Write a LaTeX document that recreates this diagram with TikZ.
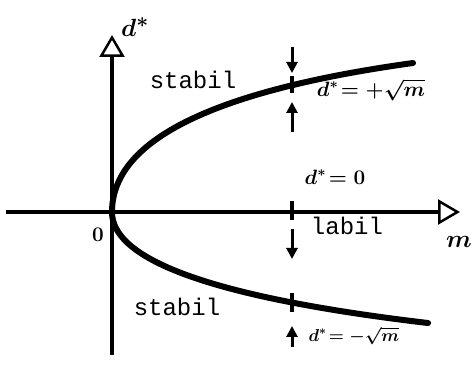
\documentclass[tikz,border=0pt]{standalone}
\usepackage{fontspec}
\newfontfamily\monofont{Liberation Mono}
\usetikzlibrary{arrows.meta,positioning}

\begin{document}
\begin{tikzpicture}[x=1pt, y=1pt,
  axis/.style={line width=4pt,
               -{Triangle[open, length=22pt, width=25pt, line width=2.5pt]}},
  branch/.style={line width=6pt, line cap=round},
  tick/.style={line width=3.5pt},
  arr/.style={line width=3pt, -{Triangle[length=11pt, width=11pt]}},
  zone/.style={font=\monofont\fontsize{24}{24}\selectfont, inner sep=0pt},
  hand/.style={font=\fontsize{20}{20}\selectfont\boldmath, inner sep=0pt}
]
\useasboundingbox (0,0) rectangle (472,367);

% axes
\coordinate (O)    at (112,155);
\coordinate (mlo)  at (6,155);
\coordinate (mhi)  at (460,155);
\coordinate (dlo)  at (112,12);
\coordinate (dhi)  at (112,332);
\draw[axis] (mlo) -- (mhi);
\draw[axis] (dlo) -- (dhi);

% branches d* = +sqrt(m) and d* = -sqrt(m)
\draw[branch] plot[domain=0:17.35, samples=60, smooth]
  ({112+\x*\x}, {155+12.37*\x-0.218*\x*\x});
\draw[branch] plot[domain=0:17.78, samples=60, smooth]
  ({112+\x*\x}, {155-8.29*\x+0.115*\x*\x});

% cut at m = const
\coordinate (upA) at (292,274); \coordinate (upB) at (292,291);
\coordinate (axA) at (292,147); \coordinate (axB) at (292,166);
\coordinate (loA) at (292,55);  \coordinate (loB) at (292,74);
\draw[tick] (upA) -- (upB);
\draw[tick] (axA) -- (axB);
\draw[tick] (loA) -- (loB);

\coordinate (a1s) at (292,320); \coordinate (a1e) at (292,294);
\coordinate (a2s) at (292,235); \coordinate (a2e) at (292,265);
\coordinate (a3s) at (292,138); \coordinate (a3e) at (292,108);
\coordinate (a4s) at (292,20);  \coordinate (a4e) at (292,41);
\draw[arr] (a1s) -- (a1e);
\draw[arr] (a2s) -- (a2e);
\draw[arr] (a3s) -- (a3e);
\draw[arr] (a4s) -- (a4e);

% labels
\node[hand, font=\fontsize{30}{30}\selectfont\boldmath] (dlab) at (135,340) {$d^{*}$};
\node[hand, font=\fontsize{30}{30}\selectfont\boldmath] (mlab) at (459,125) {$m$};
\node[hand] (zero)  at (98,132)  {$0$};
\node[zone] (st1)   at (193,287) {stabil};
\node[zone] (lab)   at (347,141) {labil};
\node[zone] (st2)   at (177,60)  {stabil};
\node[hand] (eqp)   at (371,277) {$d^{*}\!=+\sqrt{m}$};
\node[hand] (eq0)   at (335,190) {$d^{*}\!=0$};
\node[hand, font=\fontsize{17}{17}\selectfont\boldmath] (eqm) at (354,31) {$d^{*}\!=-\sqrt{m}$};

\end{tikzpicture}
\end{document}
